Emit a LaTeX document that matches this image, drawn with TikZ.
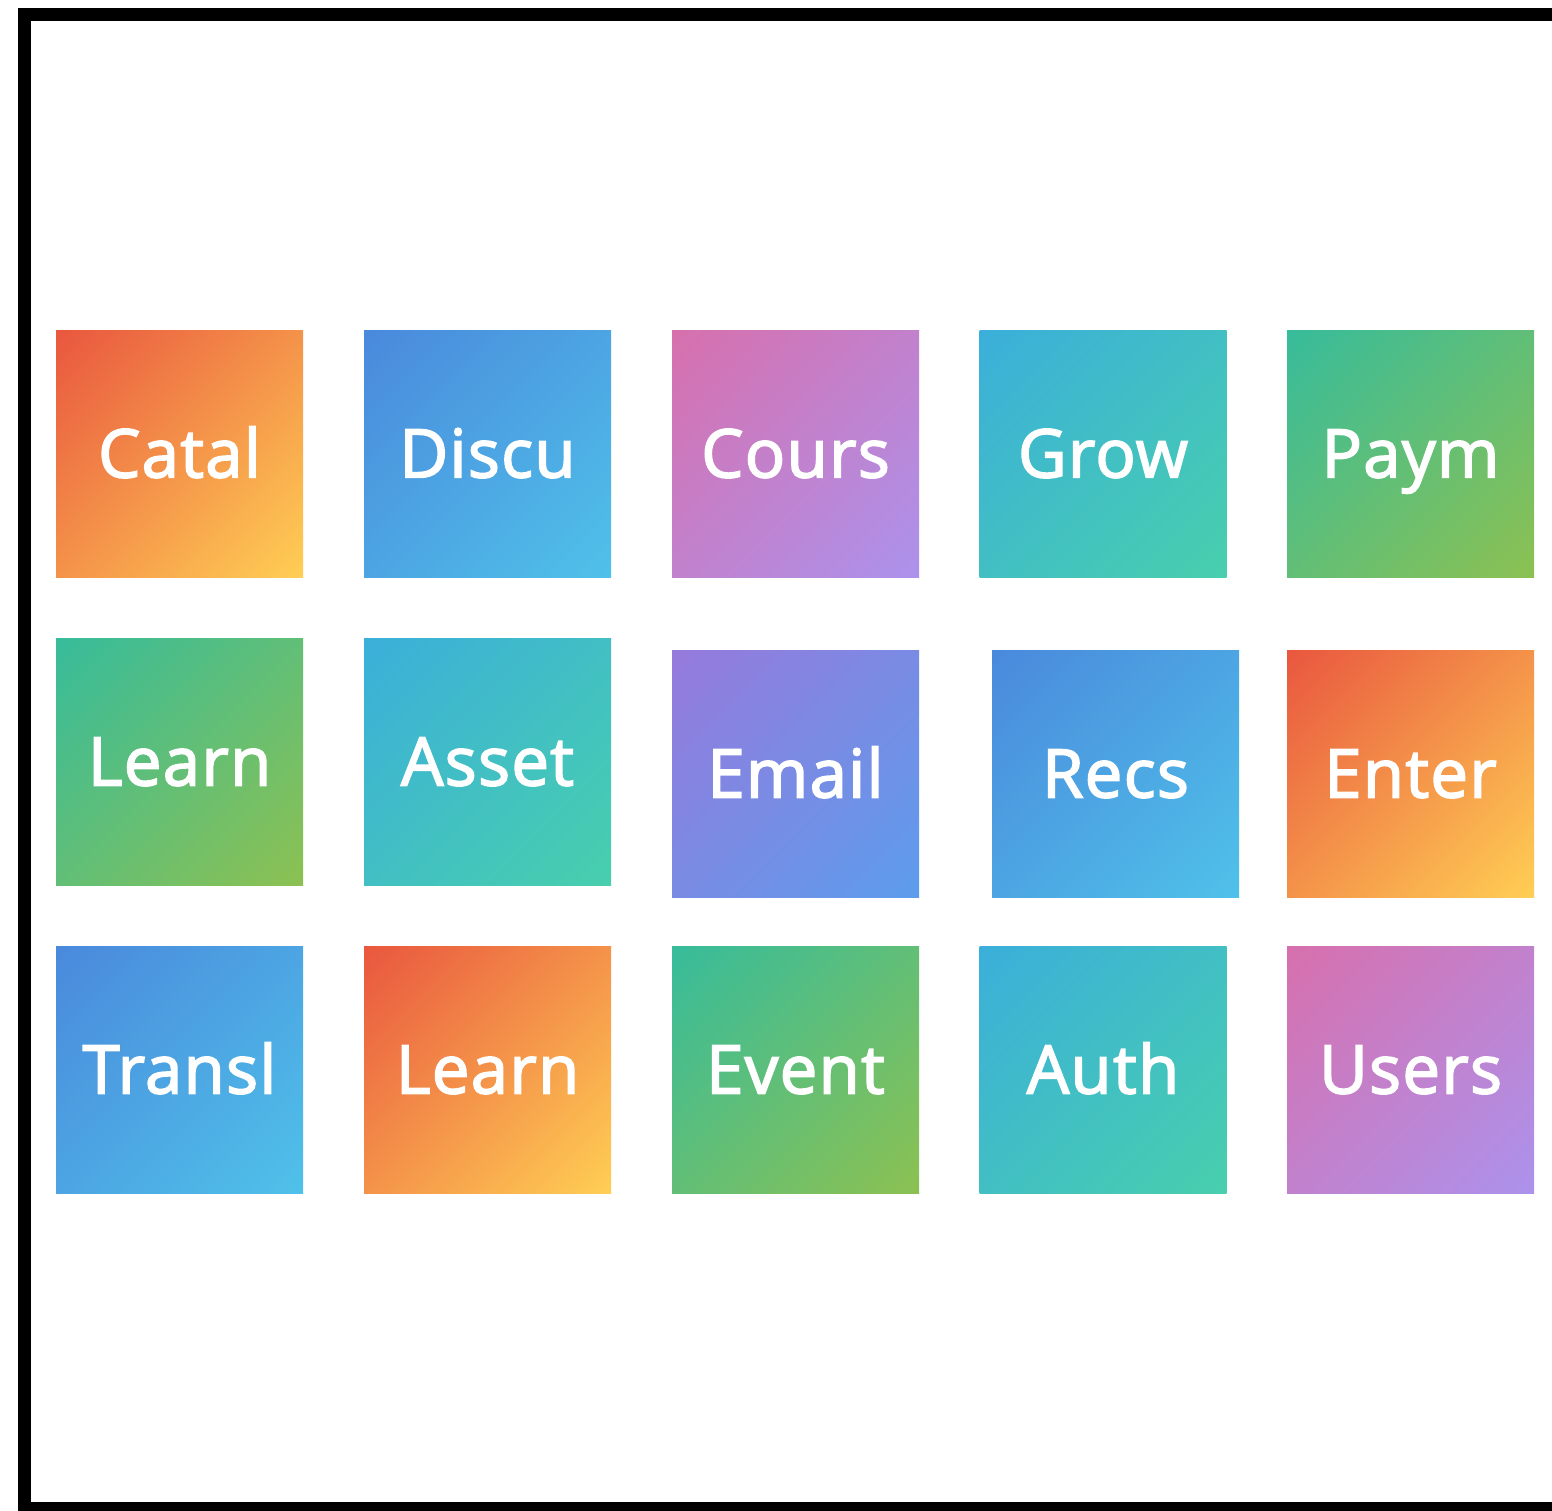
\documentclass[tikz,border=0pt]{standalone}
\usepackage{fontspec}
\setmainfont{Open Sans}
\newfontfamily\tilefont{Open Sans}[FakeBold=2.5, LetterSpace=2]
\definecolor{oA}{HTML}{E9573F}\definecolor{oB}{HTML}{FFCE54}
\definecolor{bA}{HTML}{4A89DC}\definecolor{bB}{HTML}{4FC1E9}
\definecolor{pA}{HTML}{D770AD}\definecolor{pB}{HTML}{AC92EC}
\definecolor{tA}{HTML}{3BAFDA}\definecolor{tB}{HTML}{48CFAD}
\definecolor{gA}{HTML}{37BC9B}\definecolor{gB}{HTML}{8CC152}
\definecolor{vA}{HTML}{967ADC}\definecolor{vB}{HTML}{5D9CEC}
\colorlet{tlc}{oA}\colorlet{brc}{oB}
\pgfdeclarehorizontalshading[tlc,brc]{diag}{100bp}{color(0bp)=(tlc); color(14.64bp)=(tlc); color(85.36bp)=(brc); color(100bp)=(brc)}
\tikzset{
  tile/.style 2 args={minimum width=123.5pt, minimum height=123.5pt, inner sep=0pt, outer sep=0pt,
    /utils/exec={\colorlet{tlc}{#1}\colorlet{brc}{#2}}, shading=diag, shading angle=-45,
    text=white, font=\tilefont\fontsize{33.5}{40}\selectfont, text height=23.9pt, text depth=0pt},
  orangetile/.style={tile={oA}{oB}},
  bluetile/.style={tile={bA}{bB}},
  pinktile/.style={tile={pA}{pB}},
  tealtile/.style={tile={tA}{tB}},
  greentile/.style={tile={gA}{gB}},
  violettile/.style={tile={vA}{vB}},
  frame/.style={draw=black, line width=6.5pt}
}
\begin{document}
\begin{tikzpicture}[x=0.5pt, y=-0.5pt]
\useasboundingbox (0,0) rectangle (1552,1510);
\clip (0,0) rectangle (1552,1510);
\fill[white] (0,0) rectangle (1552,1510);
\draw[frame] (24.5,14) rectangle (1640,1508.5);
% row 1
\node[orangetile] (catal) at (179.5,453.5) {Catal};
\node[bluetile]   (discu) at (487.5,453.5) {Discu};
\node[pinktile]   (cours) at (795.5,453.5) {Cours};
\node[tealtile]   (grow)  at (1103,453.5) {Grow};
\node[greentile]  (paym)  at (1410.5,453.5) {Paym};
% row 2
\node[greentile]  (learnA) at (179.5,761.5) {Learn};
\node[tealtile]   (asset)  at (487.5,761.5) {Asset};
\node[violettile] (email)  at (795.5,773.5) {Email};
\node[bluetile]   (recs)   at (1115.5,773.5) {Recs};
\node[orangetile] (enter)  at (1410.5,773.5) {Enter};
% row 3
\node[bluetile]   (transl) at (179.5,1069.5) {Transl};
\node[orangetile] (learnB) at (487.5,1069.5) {Learn};
\node[greentile]  (event)  at (795.5,1069.5) {Event};
\node[tealtile]   (auth)   at (1103,1069.5) {Auth};
\node[pinktile]   (users)  at (1410.5,1069.5) {Users};
\end{tikzpicture}
\end{document}
